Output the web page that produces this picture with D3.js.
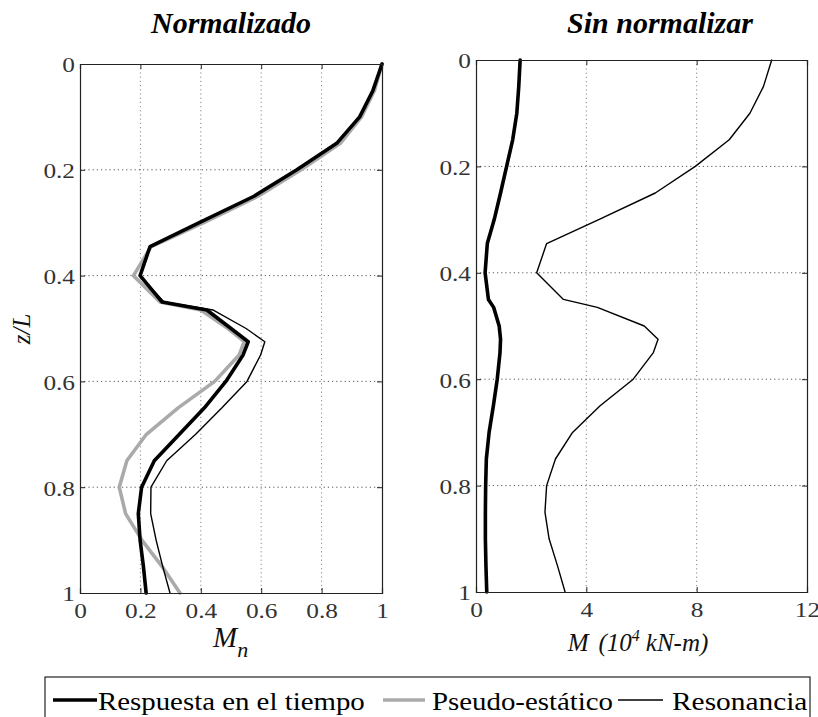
<!DOCTYPE html>
<html>
<head>
<meta charset="utf-8">
<script src="https://cdn.jsdelivr.net/npm/d3@7"></script>
<style>
  html, body { margin: 0; padding: 0; background: #fff; }
  svg { display: block; }
</style>
</head>
<body>
<svg id="chart" width="818" height="717"></svg>
<script>
// ---------- data ----------
const depth = [0, 0.05, 0.1, 0.15, 0.2, 0.25, 0.3, 0.345, 0.4, 0.45, 0.465, 0.5, 0.525, 0.55, 0.6, 0.65, 0.7, 0.75, 0.8, 0.85, 0.9, 0.95, 1];

// Normalizado (M_n)
const respuestaN = [1.0, 0.97, 0.926, 0.85, 0.718, 0.576, 0.395, 0.232, 0.199, 0.272, 0.42, 0.50, 0.557, 0.54, 0.483, 0.412, 0.329, 0.246, 0.204, 0.193, 0.199, 0.21, 0.219];
const pseudoN    = [1.0, 0.975, 0.932, 0.862, 0.732, 0.59, 0.41, 0.236, 0.177, 0.265, 0.40, 0.49, 0.544, 0.527, 0.446, 0.325, 0.22, 0.155, 0.13, 0.151, 0.205, 0.272, 0.331];
const resonanciaN = [1.0, 0.97, 0.926, 0.85, 0.718, 0.576, 0.395, 0.232, 0.199, 0.278, 0.44, 0.55, 0.612, 0.598, 0.553, 0.47, 0.383, 0.287, 0.235, 0.234, 0.252, 0.274, 0.298];

// Sin normalizar (M, 10^4 kN-m)
const respuestaM = [1.60, 1.55, 1.48, 1.33, 1.11, 0.89, 0.66, 0.41, 0.33, 0.45, 0.64, 0.84, 0.89, 0.87, 0.77, 0.63, 0.475, 0.375, 0.35, 0.34, 0.34, 0.36, 0.39];
const resonanciaM = [10.72, 10.42, 9.93, 9.18, 7.95, 6.5, 4.45, 2.56, 2.2, 3.17, 4.4, 6.1, 6.6, 6.43, 5.7, 4.5, 3.5, 2.88, 2.56, 2.5, 2.65, 2.95, 3.23];

const xTicksLeft = [0, 0.2, 0.4, 0.6, 0.8, 1];
const xTickLabelsLeft = ["0", "0.2", "0.4", "0.6", "0.8", "1"];
const xTicksRight = [0, 4, 8, 12];
const xTickLabelsRight = ["0", "4", "8", "12"];
const yTicks = [0, 0.2, 0.4, 0.6, 0.8, 1];
const yTickLabels = ["0", "0.2", "0.4", "0.6", "0.8", "1"];

const titles = ["Normalizado", "Sin normalizar"];
const legendLabels = ["Respuesta en el tiempo", "Pseudo-estático", "Resonancia"];

// ---------- drawing ----------
const SERIF = "'Liberation Serif'";
const svg = d3.select("#chart");

const styles = {
  resp:  { stroke: "#000", width: 3.6 },
  pseudo:{ stroke: "#aaa", width: 3.6 },
  reso:  { stroke: "#000", width: 1.4 }
};

function setFont(sel, size, opts = {}) {
  sel.style("font-family", SERIF).style("font-size", size + "px");
  if (opts.italic) sel.style("font-style", "italic");
  if (opts.bold) sel.style("font-weight", "bold");
  return sel;
}

function panel(cfg) {
  const x = d3.scaleLinear().domain(cfg.xDomain).range([cfg.left, cfg.right]);
  const y = d3.scaleLinear().domain([0, 1]).range([cfg.top, cfg.bottom]);
  const g = svg.append("g");

  // grid
  g.append("g").selectAll("line").data(cfg.xTicks.slice(1, -1)).join("line")
    .attr("x1", d => x(d)).attr("x2", d => x(d))
    .attr("y1", cfg.top).attr("y2", cfg.bottom)
    .attr("stroke", "#888").attr("stroke-width", 1).attr("stroke-dasharray", "1.2,3");
  g.append("g").selectAll("line").data(yTicks.slice(1, -1)).join("line")
    .attr("y1", d => y(d)).attr("y2", d => y(d))
    .attr("x1", cfg.left).attr("x2", cfg.right)
    .attr("stroke", "#555").attr("stroke-width", 1).attr("stroke-dasharray", "1.2,3");

  // series
  const line = vals => d3.line().x(d => x(d)).y((d, i) => y(depth[i]))(vals);
  cfg.series.forEach(s => {
    g.append("path").attr("d", line(s.values))
      .attr("fill", "none").attr("stroke", s.style.stroke)
      .attr("stroke-width", s.style.width)
      .attr("stroke-linejoin", "round").attr("stroke-linecap", "round");
  });

  // axes (inner ticks on all sides)
  const tick = 5;
  const axB = g.append("g").attr("transform", `translate(0,${cfg.bottom})`)
    .call(d3.axisBottom(x).tickValues(cfg.xTicks).tickSize(-tick).tickPadding(10)
      .tickFormat((d, i) => cfg.xLabels[i]));
  const axT = g.append("g").attr("transform", `translate(0,${cfg.top})`)
    .call(d3.axisTop(x).tickValues(cfg.xTicks).tickSize(-tick).tickFormat(""));
  const axL = g.append("g").attr("transform", `translate(${cfg.left},0)`)
    .call(d3.axisLeft(y).tickValues(yTicks).tickSize(-tick).tickPadding(5)
      .tickFormat((d, i) => yTickLabels[i]));
  const axR = g.append("g").attr("transform", `translate(${cfg.right},0)`)
    .call(d3.axisRight(y).tickValues(yTicks).tickSize(-tick).tickFormat(""));
  [axB, axT, axL, axR].forEach(a => {
    a.attr("font-family", null).attr("font-size", null);
    a.select(".domain").attr("stroke", "#222").attr("stroke-width", 1.2);
    a.selectAll(".tick line").attr("stroke", "#222");
    setFont(a.selectAll("text"), 22).attr("fill", "#333");
  });
  axB.selectAll(".tick text").attr("dy", 0).attr("y", 0).attr("x", 0)
    .attr("transform", "translate(0,25) scale(1.15,1)");
  axL.selectAll(".tick text").attr("dy", "0.36em").attr("x", 0)
    .attr("transform", "translate(-5,0) scale(1.15,1)");

  // title
  setFont(svg.append("text"), 30, { italic: true, bold: true })
    .attr("x", cfg.titleX).attr("y", 33)
    .attr("text-anchor", "middle").attr("fill", "#000")
    .text(cfg.title);
  return { x, y };
}

panel({
  left: 80, right: 382, top: 64, bottom: 593,
  xDomain: [0, 1], xTicks: xTicksLeft, xLabels: xTickLabelsLeft,
  title: titles[0], titleX: 231,
  series: [
    { values: pseudoN, style: styles.pseudo },
    { values: respuestaN, style: styles.resp },
    { values: resonanciaN, style: styles.reso }
  ]
});

panel({
  left: 476, right: 807, top: 60, bottom: 592,
  xDomain: [0, 12], xTicks: xTicksRight, xLabels: xTickLabelsRight,
  title: titles[1], titleX: 660,
  series: [
    { values: respuestaM, style: styles.resp },
    { values: resonanciaM, style: styles.reso }
  ]
});

// axis labels
const lblL = setFont(svg.append("text"), 29, { italic: true })
  .attr("x", 213).attr("y", 647).attr("fill", "#111");
lblL.append("tspan").text("M");
setFont(lblL.append("tspan"), 22, { italic: true }).attr("dy", 10).text("n");

const lblR = setFont(svg.append("text"), 25, { italic: true })
  .attr("x", 638).attr("y", 651).attr("text-anchor", "middle").attr("fill", "#111");
lblR.append("tspan").text("M");
lblR.append("tspan").attr("dx", 10).text("(10");
setFont(lblR.append("tspan"), 16, { italic: true }).attr("dy", -10).text("4");
lblR.append("tspan").attr("dy", 10).attr("dx", 6).text("kN-m)");

setFont(svg.append("text"), 25, { italic: true })
  .attr("transform", "translate(30,329) rotate(-90)")
  .attr("text-anchor", "middle").attr("fill", "#111").text("z/L");

// legend
const leg = svg.append("g");
leg.append("rect").attr("x", 45).attr("y", 677).attr("width", 765).attr("height", 60)
  .attr("fill", "#fff").attr("stroke", "#222").attr("stroke-width", 1.2);
const legItems = [
  { label: legendLabels[0], style: styles.resp,   x1: 53,  x2: 97,  tx: 98,  sx: 1.11 },
  { label: legendLabels[1], style: styles.pseudo, x1: 383, x2: 425, tx: 432, sx: 1.11 },
  { label: legendLabels[2], style: styles.reso,   x1: 618, x2: 663, tx: 672, sx: 1.13 }
];
legItems.forEach(it => {
  leg.append("line").attr("x1", it.x1).attr("x2", it.x2).attr("y1", 700).attr("y2", 700)
    .attr("stroke", it.style.stroke).attr("stroke-width", it.style.width);
  setFont(leg.append("text"), 26)
    .attr("transform", `translate(${it.tx},710) scale(${it.sx},1)`)
    .attr("fill", "#000").text(it.label);
});
</script>
</body>
</html>
